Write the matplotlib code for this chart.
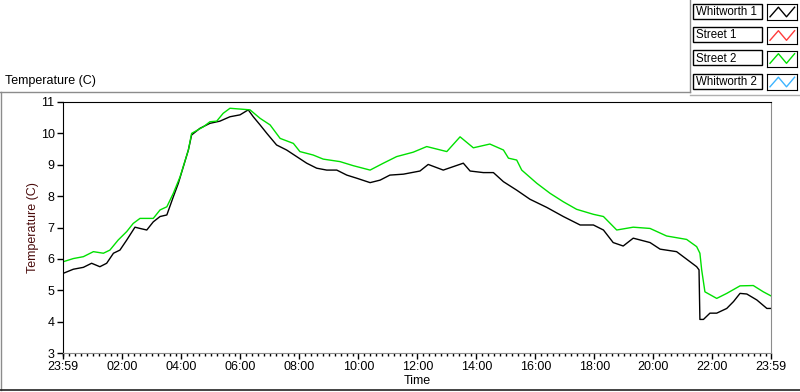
import numpy as np
import matplotlib
matplotlib.use("Agg")
import matplotlib.pyplot as plt
from matplotlib.lines import Line2D
from matplotlib.patches import Rectangle

# hours elapsed since the 23:59 start
w1_hours = [0.01, 0.35, 0.69, 0.97, 1.25, 1.48, 1.71, 1.93, 2.16, 2.44, 2.61, 2.84,
            3.06, 3.29, 3.52, 3.74, 3.91, 4.08, 4.25, 4.36, 4.64, 4.98, 5.32, 5.66,
            6.00, 6.28, 6.45, 6.68, 6.91, 7.24, 7.58, 7.92, 8.26, 8.60, 8.94, 9.28,
            9.62, 9.96, 10.41, 10.75, 11.08, 11.54, 12.10, 12.38, 12.89, 13.23, 13.57,
            13.80, 14.25, 14.59, 14.93, 15.38, 15.83, 16.40, 16.96, 17.53, 17.98,
            18.32, 18.65, 18.99, 19.33, 19.90, 20.24, 20.80, 21.14, 21.48, 21.56,
            21.59, 21.71, 21.93, 22.16, 22.50, 22.73, 22.95, 23.18, 23.52, 23.86, 24.0]
w1_temp = [5.54, 5.67, 5.73, 5.86, 5.75, 5.86, 6.18, 6.28, 6.60, 7.01, 6.97, 6.92,
           7.18, 7.35, 7.40, 7.98, 8.41, 8.94, 9.47, 9.95, 10.16, 10.32, 10.39, 10.53,
           10.59, 10.75, 10.53, 10.27, 10.00, 9.63, 9.47, 9.26, 9.05, 8.89, 8.83, 8.83,
           8.67, 8.57, 8.43, 8.51, 8.67, 8.70, 8.80, 9.01, 8.83, 8.94, 9.05,
           8.80, 8.75, 8.75, 8.46, 8.19, 7.90, 7.64, 7.35, 7.08, 7.08,
           6.92, 6.52, 6.41, 6.66, 6.52, 6.31, 6.23, 5.99, 5.75, 5.65,
           4.07, 4.07, 4.27, 4.27, 4.42, 4.64, 4.90, 4.88, 4.69, 4.42, 4.42]

s2_hours = [0.01, 0.35, 0.69, 1.03, 1.37, 1.59, 1.87, 2.16, 2.38, 2.61, 3.06, 3.29,
            3.52, 3.74, 3.97, 4.25, 4.36, 4.76, 4.98, 5.21, 5.43, 5.66, 6.34, 6.68,
            7.02, 7.36, 7.81, 8.03, 8.48, 8.82, 9.39, 9.84, 10.41, 10.86, 11.31, 11.87,
            12.33, 13.01, 13.46, 13.91, 14.47, 14.93, 15.10, 15.38, 15.55, 16.06, 16.51,
            16.96, 17.41, 17.98, 18.32, 18.77, 19.33, 19.90, 20.46, 21.14, 21.48, 21.59,
            21.65, 21.76, 22.16, 22.50, 22.95, 23.40, 23.74, 24.0]
s2_temp = [5.91, 6.01, 6.07, 6.23, 6.18, 6.28, 6.60, 6.87, 7.13, 7.29, 7.29, 7.56,
           7.66, 8.09, 8.62, 9.47, 10.00, 10.21, 10.37, 10.39, 10.64, 10.80, 10.75, 10.48,
           10.27, 9.84, 9.68, 9.42, 9.31, 9.18, 9.10, 8.97, 8.83, 9.05, 9.26, 9.40,
           9.58, 9.42, 9.89, 9.54, 9.66, 9.47, 9.21, 9.15, 8.83, 8.41, 8.09,
           7.82, 7.58, 7.42, 7.35, 6.92, 7.01, 6.97, 6.73, 6.62, 6.39, 6.18,
           5.65, 4.95, 4.74, 4.90, 5.14, 5.15, 4.95, 4.82]

tick_labels = ["23:59", "02:00", "04:00", "06:00", "08:00", "10:00", "12:00",
               "14:00", "16:00", "18:00", "20:00", "22:00", "23:59"]
legend_names = ["Whitworth 1", "Street 1", "Street 2", "Whitworth 2"]
legend_colors = ["black", "#ff3b3b", "#00e000", "#3cb4ff"]

plt.rcParams['font.family'] = ['Liberation Sans', 'DejaVu Sans']
FS = 9
W, H = 800, 392
fig = plt.figure(figsize=(8, 3.92), dpi=100)

def fx(px):
    return px / W

def fy(py):
    return 1 - py / H

# outer panel frame
fig.add_artist(Line2D([fx(0), fx(690)], [fy(92), fy(92)], color="#8c8c8c", lw=1))
fig.add_artist(Line2D([fx(690), fx(690)], [fy(0), fy(92)], color="#8c8c8c", lw=1))
fig.add_artist(Line2D([fx(690), fx(800)], [fy(95), fy(95)], color="#b0b0b0", lw=1))
fig.add_artist(Line2D([fx(1), fx(1)], [fy(92), fy(390)], color="#8c8c8c", lw=1))
fig.add_artist(Line2D([fx(0), fx(800)], [fy(390), fy(390)], color="#222222", lw=1.2))
fig.text(fx(5), fy(81), "Temperature (C)", fontsize=FS, va="center", ha="left")

ax = fig.add_axes([fx(63), fy(353), fx(771 - 63), (353 - 102) / H])
ax.plot(w1_hours, w1_temp, color="black", lw=1)
ax.plot(s2_hours, s2_temp, color="#00e000", lw=1)

ax.set_xlim(0, 24)
ax.set_ylim(3, 11)
ax.set_yticks(range(3, 12))
major = [0] + [2 * k + 1 / 60 for k in range(1, 12)] + [24]
ax.set_xticks(major)
ax.set_xticklabels(tick_labels)
ax.set_xticks(np.arange(1 / 60, 24, 0.2), minor=True)
ax.tick_params(axis="both", which="major", length=4, width=1, labelsize=FS, pad=2)
ax.tick_params(axis="x", which="minor", length=2.5, width=1)
for side in ["left", "top"]:
    ax.spines[side].set_color("black")
for side in ["right", "bottom"]:
    ax.spines[side].set_color("#8c8c8c")
ax.set_ylabel("Temperature (C)", fontsize=FS, color="#4a0c0c", labelpad=1)
ax.set_xlabel("Time", fontsize=FS, labelpad=1)

# legend boxes
rows_top = [4, 27.5, 50.5, 74]
for name, color, top in zip(legend_names, legend_colors, rows_top):
    fig.add_artist(Rectangle((fx(693), fy(top + 14.5)), fx(69), 14.5 / H,
                             fc="white", ec="black", lw=1))
    fig.text(fx(695.5), fy(top + 8), name, fontsize=8.3, va="center", ha="left")
    sw = fig.add_axes([fx(767), fy(top + 16), fx(30), 16 / H])
    sw.plot([0.1, 0.38, 0.65, 0.92], [0.2, 0.8, 0.2, 0.8], color=color, lw=1)
    sw.set_xlim(0, 1)
    sw.set_ylim(0, 1)
    sw.set_xticks([])
    sw.set_yticks([])
    for s in sw.spines.values():
        s.set_color("black")

fig.savefig("out.png", dpi=100)
